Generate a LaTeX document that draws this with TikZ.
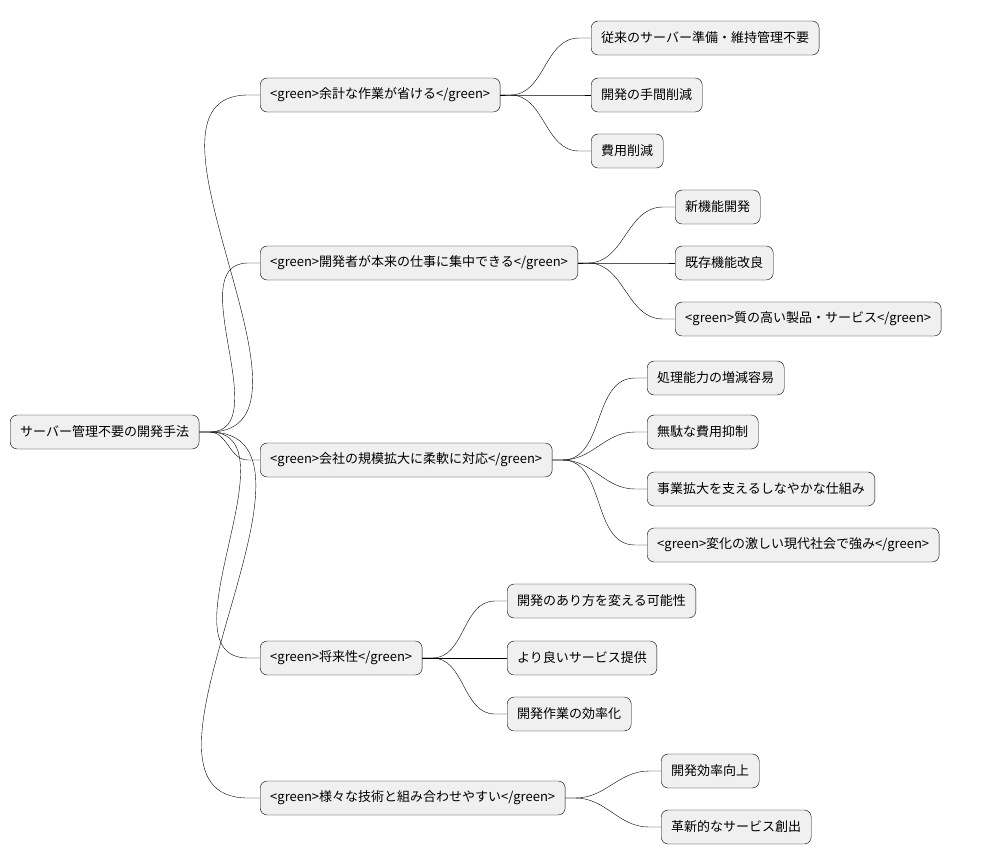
\documentclass[tikz,border=0pt]{standalone}
\usepackage{fontspec}
\setmainfont{Noto Sans CJK JP}
\usetikzlibrary{calc}
\tikzstyle{topic} = [draw, fill=black!6, rounded corners=7pt, anchor=west,
    minimum height=34pt, inner xsep=10pt, font=\fontsize{13}{15}\selectfont]
\tikzstyle{link} = [draw, thin]
\newcommand{\conn}[2]{\path [link] (#1.east) -- ++(10pt,0)
  to[out=0,in=180] ($(#2.west)+(-12pt,0)$) -- (#2.west);}

\begin{document}
\begin{tikzpicture}[x=1pt, y=-1pt]
  \useasboundingbox (0,0) rectangle (993,865);
  % Place nodes
  \node [topic] (root) at (10,432) {サーバー管理不要の開発手法};

  \node [topic] (a) at (260,95) {<green>余計な作業が省ける</green>};
  \node [topic] (b) at (260,263) {<green>開発者が本来の仕事に集中できる</green>};
  \node [topic] (c) at (260,460) {<green>会社の規模拡大に柔軟に対応</green>};
  \node [topic] (d) at (260,658) {<green>将来性</green>};
  \node [topic] (e) at (260,798) {<green>様々な技術と組み合わせやすい</green>};

  \node [topic] (a1) at (591,38) {従来のサーバー準備・維持管理不要};
  \node [topic] (a2) at (591,95) {開発の手間削減};
  \node [topic] (a3) at (591,151) {費用削減};

  \node [topic] (b1) at (675,207) {新機能開発};
  \node [topic] (b2) at (675,263) {既存機能改良};
  \node [topic] (b3) at (675,319) {<green>質の高い製品・サービス</green>};

  \node [topic] (c1) at (647,378) {処理能力の増減容易};
  \node [topic] (c2) at (647,432) {無駄な費用抑制};
  \node [topic] (c3) at (647,489) {事業拡大を支えるしなやかな仕組み};
  \node [topic] (c4) at (647,545) {<green>変化の激しい現代社会で強み</green>};

  \node [topic] (d1) at (507,601) {開発のあり方を変える可能性};
  \node [topic] (d2) at (507,658) {より良いサービス提供};
  \node [topic] (d3) at (507,714) {開発作業の効率化};

  \node [topic] (e1) at (661,771) {開発効率向上};
  \node [topic] (e2) at (661,827) {革新的なサービス創出};

  % Connect
  \foreach \c in {a,b,c,d,e} {\conn{root}{\c}}
  \foreach \c in {a1,a2,a3} {\conn{a}{\c}}
  \foreach \c in {b1,b2,b3} {\conn{b}{\c}}
  \foreach \c in {c1,c2,c3,c4} {\conn{c}{\c}}
  \foreach \c in {d1,d2,d3} {\conn{d}{\c}}
  \foreach \c in {e1,e2} {\conn{e}{\c}}
\end{tikzpicture}
\end{document}
